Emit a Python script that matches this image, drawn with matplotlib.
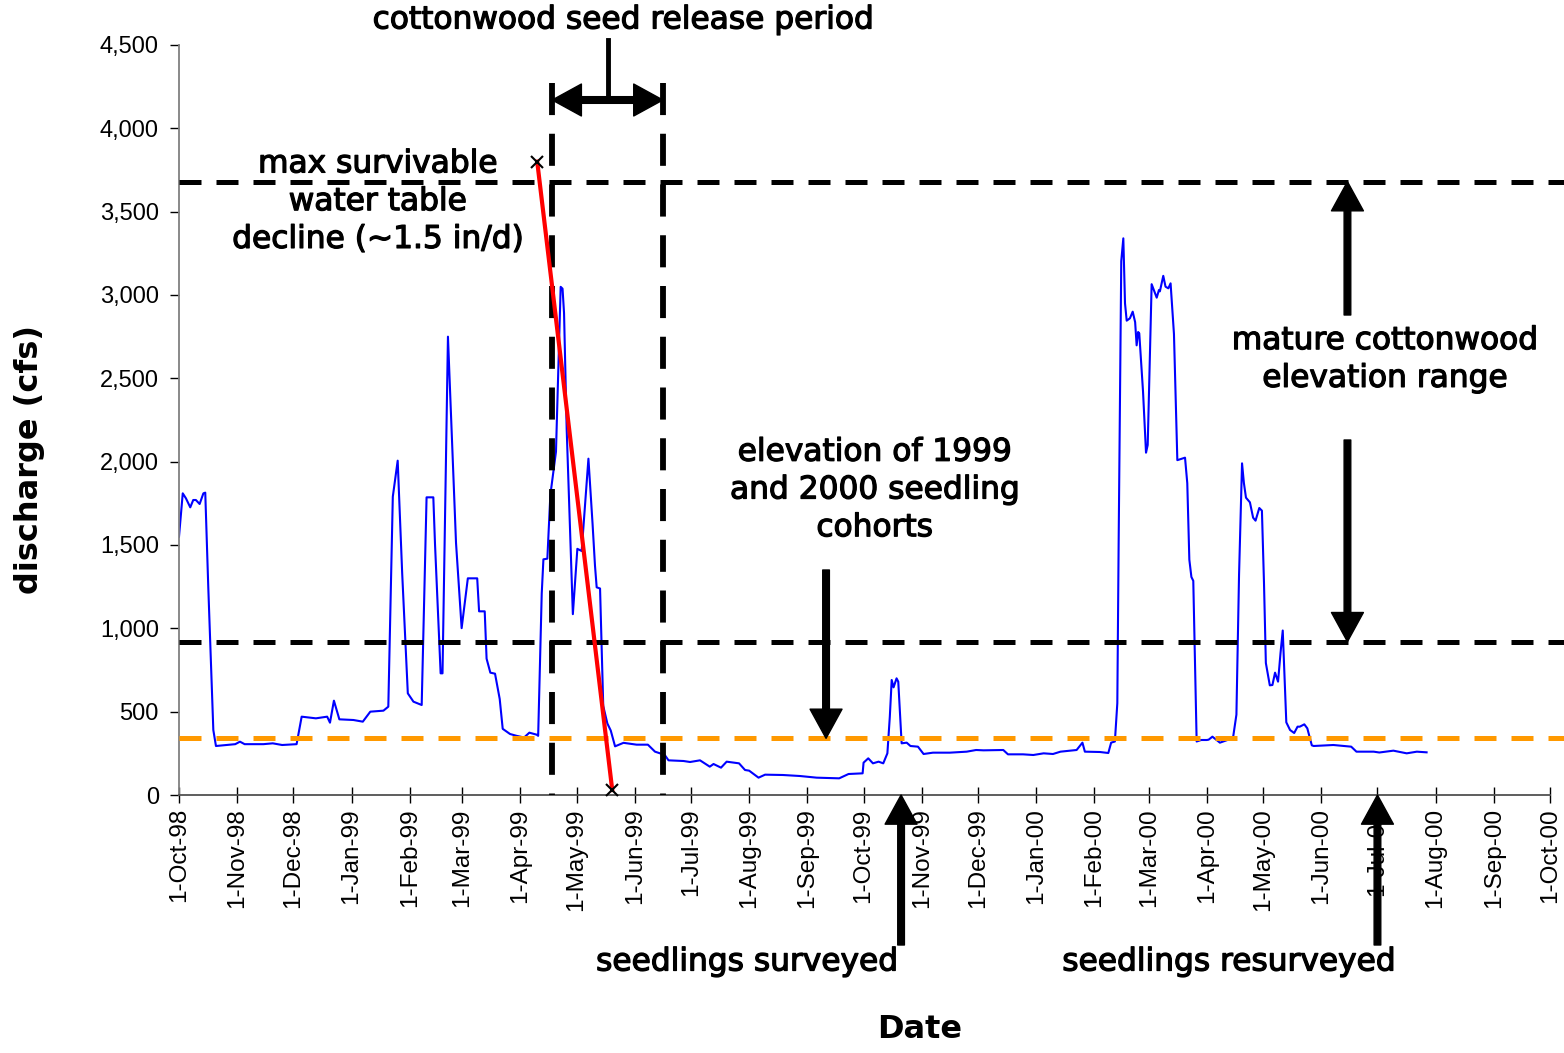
import numpy as np
import matplotlib
matplotlib.use("Agg")
import matplotlib.pyplot as plt
import matplotlib.dates as mdates
import matplotlib.patheffects as pe
from matplotlib.ticker import FuncFormatter

# daily discharge: days since 1-Oct-98 and cfs
day = [0, 2, 3.7, 6, 7.6, 9, 11, 13, 14, 15.6, 18.3, 19.7, 25, 30, 32.5, 35, 45, 50, 55,
       62.7, 65.4, 73, 79, 80.5, 82.6, 85.5, 93, 98, 102, 109, 111.6, 114, 116.6, 119, 122,
       125, 129.4, 132, 135.6, 136.5, 139.5, 140.5, 143.4, 147.7, 150.7, 154, 159, 160, 163,
       164, 166, 168.5, 171, 172.6, 176.5, 180, 184, 186.8, 190.7, 191.5, 193.4, 194.3,
       196.4, 198, 201, 203.5, 204.5, 205.3, 206.7, 208.5, 210, 212.4, 214.7, 218.3, 220.5,
       221.8, 222.7, 224.5, 226.2, 228.4, 230.2, 232.5, 237, 244, 250, 253.8, 256.5, 259,
       261, 269, 272.5, 277.8, 283, 285, 289, 292, 298.6, 301.8, 304, 309, 312.5, 322, 331,
       340, 352, 357, 364.5, 365, 367.5, 370, 373, 375.5, 377.7, 379, 380, 381, 382.6, 383.5,
       385.3, 388, 390, 394, 397, 402, 411, 420, 425, 429, 439.5, 442, 450, 455.5, 461, 466,
       470, 478.6, 481.7, 483, 491, 495.5, 497, 499, 500.3, 501, 502.4, 503.5, 504.4, 505.3,
       507, 508.5, 509.8, 510.6, 511.4, 512, 514, 515.6, 516.5, 518.6, 521.3, 522.5, 523,
       524.8, 526, 527.5, 528.7, 530.5, 532.3, 536.4, 537.6, 538.7, 539.8, 540.8, 542.6, 545,
       548, 549, 551, 555, 559, 562, 563.8, 565.2, 566.8, 567.8, 568.9, 571, 572.7, 574, 576,
       577.4, 578.5, 579.5, 581.6, 583, 584.4, 586, 587.3, 588.5, 590.4, 592.4, 594.6, 596.4,
       597.6, 600, 601.6, 604, 605, 615.5, 625, 627.8, 637, 640, 647.5, 654.6, 660, 665.2]
cfs = [1550, 1810, 1780, 1726, 1770, 1770, 1746, 1810, 1814, 1250, 390, 294, 300, 305, 320,
       305, 305, 310, 300, 305, 470, 460, 470, 434, 566, 454, 450, 440, 500, 506, 530, 1790,
       2006, 1330, 610, 560, 540, 1786, 1786, 1506, 730, 730, 2750, 1513, 1001, 1300, 1300,
       1102, 1102, 818, 734, 728, 576, 397, 366, 355, 345, 374, 362, 355, 1208, 1414, 1418,
       1800, 2060, 3049, 3038, 2892, 2197, 1586, 1085, 1477, 1464, 2018, 1628, 1376, 1246,
       1239, 534, 429, 387, 292, 313, 302, 302, 260, 250, 240, 208, 204, 198, 208, 170, 186,
       164, 200, 190, 150, 146, 104, 122, 120, 114, 104, 100, 126, 130, 194, 220, 190, 200,
       190, 250, 470, 690, 646, 700, 680, 310, 314, 294, 290, 246, 254, 254, 260, 270, 268,
       270, 244, 244, 240, 250, 246, 260, 270, 314, 260, 258, 252, 314, 321, 551, 1504, 3203,
       3340, 2950, 2846, 2860, 2900, 2837, 2698, 2778, 2770, 2422, 2054, 2100, 3065, 2984,
       3030, 3022, 3115, 3050, 3040, 3070, 2766, 2009, 2024, 1871, 1412, 1308, 1285, 321, 330,
       330, 332, 350, 314, 330, 344, 482, 1320, 1990, 1871, 1784, 1756, 1664, 1646, 1722,
       1706, 1274, 792, 658, 660, 734, 680, 850, 987, 436, 390, 372, 410, 410, 424, 400, 298,
       294, 300, 290, 260, 260, 255, 266, 250, 260, 256]

start = "1998-10-01"
end = "2000-10-01"
line_end = "2000-10-09"           # reference dashed lines run past the axis
mature_range = [920, 3680]          # mature cottonwood elevation range (cfs)
seedling_level = 340                # 1999/2000 seedling cohorts
release_period = ["1999-04-18", "1999-06-16"]
decline_dates = ["1999-04-10", "1999-05-20"]
decline_cfs = [3800, 30]
survey_dates = ["1999-10-21", "2000-07-01"]

d = mdates.datestr2num
x = d(start) + np.array(day)

plt.rcParams["font.family"] = ["Liberation Sans", "DejaVu Sans"]
plt.rcParams["xtick.labelsize"] = 17.5
plt.rcParams["ytick.labelsize"] = 17
fig = plt.figure(figsize=(15.64, 10.53), dpi=100)
ax = fig.add_axes([179 / 1564, 1 - 795 / 1053, 1371 / 1564, 750 / 1053])

ax.plot(x, cfs, color="#0000ff", lw=1.5, zorder=2)

dash = (0, (4.4, 3))
for lvl in mature_range:
    ax.plot([d(start), d(line_end)], [lvl, lvl], color="black", lw=3.6,
            linestyle=dash, clip_on=False, zorder=3)
ax.plot([d(start), d(line_end)], [seedling_level, seedling_level], color="#ff9900",
        lw=3.6, linestyle=dash, clip_on=False, zorder=3)
for rd in release_period:
    ax.plot([d(rd), d(rd)], [4270, 0], color="black", lw=4.2, linestyle=(0, (5.5, 3.2)),
            zorder=3)

ax.plot([d(s) for s in decline_dates], decline_cfs, color="#ff0000", lw=3, zorder=4)
ax.plot([d(s) for s in decline_dates], decline_cfs, "x", color="black", ms=9, mew=1.5,
        zorder=5, clip_on=False)

ax.set_xlim(d(start), d(end))
ax.set_ylim(0, 4500)
ax.set_yticks(np.arange(0, 4501, 500))
ax.yaxis.set_major_formatter(FuncFormatter(lambda v, p: f"{int(v):,}"))
ax.xaxis.set_major_locator(mdates.MonthLocator())
ax.xaxis.set_major_formatter(FuncFormatter(
    lambda v, p: f"{mdates.num2date(v).day}-{mdates.num2date(v).strftime('%b-%y')}"))

ax.tick_params(axis="x", direction="inout", length=11, width=1, labelrotation=90, pad=4)
ax.tick_params(axis="y", direction="out", length=6.5, width=1, pad=8)
for s in ["top", "right"]:
    ax.spines[s].set_visible(False)
ax.spines["left"].set_color("#808080")
ax.spines["bottom"].set_color("#505050")
ax.spines["left"].set_linewidth(1.3)
ax.spines["bottom"].set_linewidth(1.3)

fig.text(0.019, 1 - 460 / 1053, "discharge (cfs)", rotation=90, ha="center", va="center",
         fontsize=23, fontweight="bold", family="DejaVu Sans")
fig.text(920 / 1564, 1 - 1030 / 1053, "Date", ha="center", va="center", fontsize=23,
         fontweight="bold", family="DejaVu Sans")

arr = dict(facecolor="black", edgecolor="black", width=4.8, headwidth=23, headlength=21,
           shrink=0)
tf = dict(ha="center", va="center", fontsize=22.5, linespacing=1.38, family="DejaVu Sans",
          path_effects=[pe.withStroke(linewidth=0.9, foreground="black")])

# seed release period
ax.text(d("1999-05-26"), 4650, "cottonwood seed release period", clip_on=False, **tf)
ax.plot([d("1999-05-18"), d("1999-05-18")], [4530, 4170], color="black", lw=3.5,
        clip_on=False)
for rd in release_period:
    ax.annotate("", xy=(d(rd), 4170), xytext=(d("1999-05-18"), 4170), arrowprops=arr,
                annotation_clip=False)

ax.text(d("1999-01-15"), 3560, "max survivable\nwater table\ndecline (~1.5 in/d)", **tf)

# mature range
ax.text(d("2000-07-05"), 2613, "mature cottonwood\nelevation range", **tf)
ax.annotate("", xy=(d("2000-06-15"), mature_range[1]), xytext=(d("2000-06-15"), 2880),
            arrowprops=arr)
ax.annotate("", xy=(d("2000-06-15"), mature_range[0]), xytext=(d("2000-06-15"), 2130),
            arrowprops=arr)

# seedling cohorts
ax.text(d("1999-10-07"), 1830, "elevation of 1999\nand 2000 seedling\ncohorts", **tf)
ax.annotate("", xy=(d("1999-09-11"), seedling_level), xytext=(d("1999-09-11"), 1350),
            arrowprops=arr)

# surveys
for sd in survey_dates:
    ax.annotate("", xy=(d(sd), 0), xytext=(d(sd), -900), arrowprops=arr,
                annotation_clip=False)
ax.text(d("1999-07-31"), -1002, "seedlings surveyed", clip_on=False, **tf)
ax.text(d("2000-04-13"), -1002, "seedlings resurveyed", clip_on=False, **tf)

fig.savefig("out.png", dpi=100)
